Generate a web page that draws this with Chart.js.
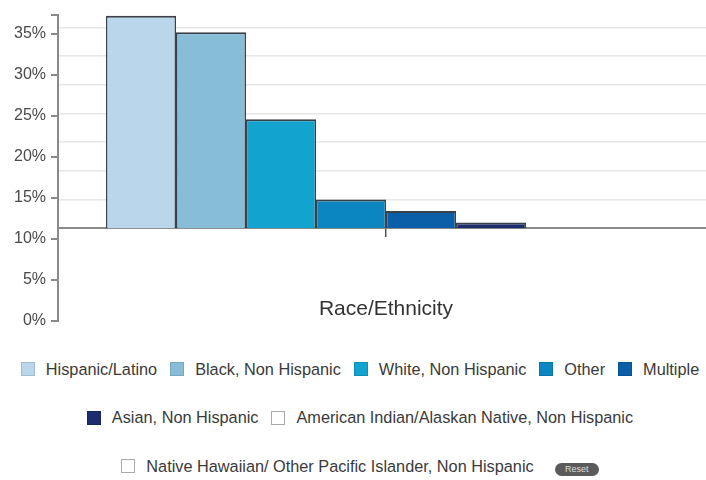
<!DOCTYPE html>
<html>
<head>
<meta charset="utf-8">
<script src="https://cdn.jsdelivr.net/npm/chart.js@4/dist/chart.umd.min.js"></script>
<style>
  html, body { margin: 0; padding: 0; background: #fff; width: 706px; height: 480px; overflow: hidden; }
  #wrap { position: absolute; left: 0; top: 0; width: 714px; height: 340px; }
  #legend {
    position: absolute; left: 0; top: 357px; width: 720px;
    display: flex; flex-wrap: wrap; justify-content: center;
    row-gap: 24.5px; column-gap: 13px;
    font: 16.3px "Liberation Sans", Arial, sans-serif; color: #3a3a3a;
  }
  .lg-item { display: flex; align-items: center; height: 24px; white-space: nowrap; }
  .lg-box  { width: 14px; height: 14px; margin-right: 11px; box-sizing: border-box; border: 1px solid rgba(0,0,0,0.12); }
  .lg-reset {
    display: flex; align-items: center; justify-content: center;
    margin-left: 8px; margin-top: 6px; width: 44px; height: 13px; border-radius: 7px;
    background: #5b5b5b; color: #ddd; font-size: 9px;
  }
</style>
</head>
<body>
<div id="wrap"><canvas id="chart"></canvas></div>
<div id="legend"></div>
<script>
/* ── DATA ── */
const X_TITLE    = 'Race/Ethnicity';
const CATEGORIES = ['All'];
const SERIES = [
  'Hispanic/Latino',
  'Black, Non Hispanic',
  'White, Non Hispanic',
  'Other',
  'Multiple',
  'Asian, Non Hispanic',
  'American Indian/Alaskan Native, Non Hispanic',
  'Native Hawaiian/ Other Pacific Islander, Non Hispanic'
];
const VALUES  = [37.2, 35.2, 24.6, 14.8, 13.4, 12.0, null, null];
const COLORS  = ['#b9d6ea', '#88bdd8', '#13a3cf', '#0c86c0', '#0b5ea8', '#1c2c6c', '#ffffff', '#ffffff'];
const Y_TICKS = [0, 5, 10, 15, 20, 25, 30, 35];
const Y_MAX   = 37.3;
const BASE    = 11.3;   // bars and x axis sit on this value
const GRID_LINES = [14.8, 18.3, 21.8, 25.3, 28.8, 32.3, 35.8];

const FONT = '"Liberation Sans", Arial, sans-serif';

const chart = new Chart(document.getElementById('chart').getContext('2d'), {
  type: 'bar',
  data: {
    labels: CATEGORIES,
    datasets: SERIES.map((name, i) => ({
      label: name,
      data: [VALUES[i]],
      backgroundColor: COLORS[i],
      borderColor: '#3a4049',
      borderWidth: { top: 2, left: 1.5, right: 1.5, bottom: 0 },
      borderSkipped: false,
      base: BASE,
      barPercentage: 1,
      categoryPercentage: 0.8537
    }))
  },
  options: {
    responsive: true,
    maintainAspectRatio: false,
    animation: false,
    layout: { padding: { top: 15, bottom: 19, left: 0, right: 0 } },
    plugins: { legend: { display: false }, tooltip: { enabled: false } },
    scales: {
      x: {
        position: { y: BASE },
        offset: true,
        border: { color: '#8a8a8a', width: 2 },
        grid: { drawOnChartArea: false, offset: false, color: '#555', tickLength: 8, lineWidth: 1.5 },
        ticks: { display: false },
        title: {
          display: true, text: X_TITLE, color: '#333',
          font: { size: 21, family: FONT },
          padding: { top: 60, bottom: 0 }
        }
      },
      y: {
        min: 0, max: Y_MAX,
        afterBuildTicks: s => { s.ticks = Y_TICKS.concat(Y_MAX).map(v => ({ value: v })); },
        afterFit: s => { s.width = 58; },
        border: { color: '#8a8a8a', width: 2 },
        grid: { drawOnChartArea: false, color: '#8a8a8a', tickLength: 7, lineWidth: 2 },
        ticks: {
          color: '#4a4a4a', padding: 5,
          font: { size: 16, family: FONT },
          callback: v => Y_TICKS.includes(v) ? v + '%' : ''
        }
      },
      y2: {
        position: 'right',
        min: 0, max: Y_MAX,
        afterBuildTicks: s => { s.ticks = GRID_LINES.map(v => ({ value: v })); },
        border: { display: false },
        grid: { color: '#e6e6e6', drawTicks: false, lineWidth: 1.5 },
        ticks: { display: false }
      }
    }
  }
});

/* ── LEGEND ── */
const legendEl = document.getElementById('legend');
legendEl.innerHTML = chart.data.datasets.map(ds => {
  const edge = ds.backgroundColor === '#ffffff' ? 'border-color:#aaa' : '';
  return `<div class="lg-item"><span class="lg-box" style="background:${ds.backgroundColor};${edge}"></span>${ds.label}</div>`;
}).join('') + '<div class="lg-item"><span class="lg-reset">Reset</span></div>';
</script>
</body>
</html>
